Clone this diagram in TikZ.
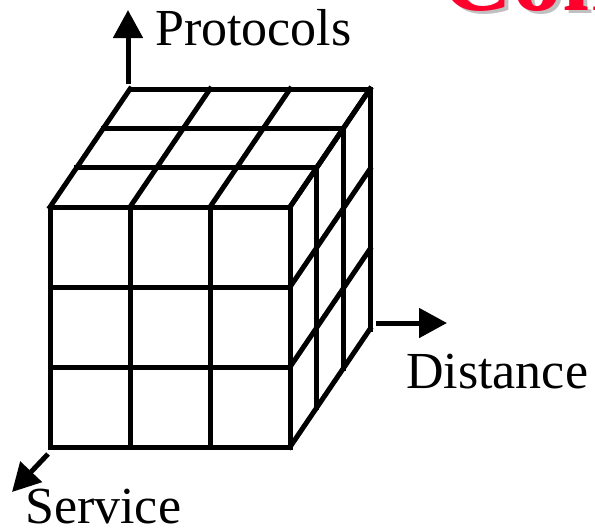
\documentclass[tikz,border=0pt]{standalone}
\usepackage{fontspec}
\setmainfont{Liberation Serif}
\usetikzlibrary{positioning, arrows.meta}
\definecolor{titlered}{RGB}{255,0,45}
\definecolor{shadowgray}{RGB}{192,192,192}
\tikzset{
    cubeline/.style={draw, line width=5pt, line cap=rect},
    axis/.style={draw, line width=5pt, -{Triangle[length=28pt, width=29pt]}},
    label/.style={inner sep=0pt, font=\fontsize{52}{60}\selectfont},
    title/.style={inner sep=0pt, font=\fontsize{100}{110}\selectfont\bfseries}
}
\begin{document}
\begin{tikzpicture}[x=1pt, y=-1pt]
  \useasboundingbox (0,0) rectangle (595,528);
  \clip (0,0) rectangle (595,528);

  % title cut off at the top
  \node(TS)[title, text=shadowgray, anchor=base west] at (444,13) {Con};
  \node(T)[title, text=titlered, anchor=base west] at (440,10) {Con};

  % the cube
  \foreach \i in {0,...,3}{
    \draw[cubeline] (50+80*\i,207) -- (50+80*\i,447);
    \draw[cubeline] (50,207+80*\i) -- (290,207+80*\i);
    \draw[cubeline] (50+80*\i,207) -- ++(80,-118);
    \draw[cubeline] (50+26.67*\i,207-39.33*\i) -- ++(240,0);
    \draw[cubeline] (290+26.67*\i,207-39.33*\i) -- ++(0,240);
    \draw[cubeline] (290,207+80*\i) -- ++(80,-118);
  }

  \coordinate(P0) at (128,84);
  \coordinate(P1) at (128,10);
  \coordinate(D0) at (376,323);
  \coordinate(D1) at (447,323);
  \coordinate(S0) at (48,454);
  \coordinate(S1) at (12,492);

  \node(P)[label, anchor=base west] at (155,45) {Protocols};
  \node(D)[label, anchor=base west] at (406,388) {Distance};
  \node(S)[label, anchor=base west] at (25,523) {Service};

  \draw[axis](P0)--(P1);
  \draw[axis](D0)--(D1);
  \draw[axis](S0)--(S1);

\end{tikzpicture}
\end{document}
